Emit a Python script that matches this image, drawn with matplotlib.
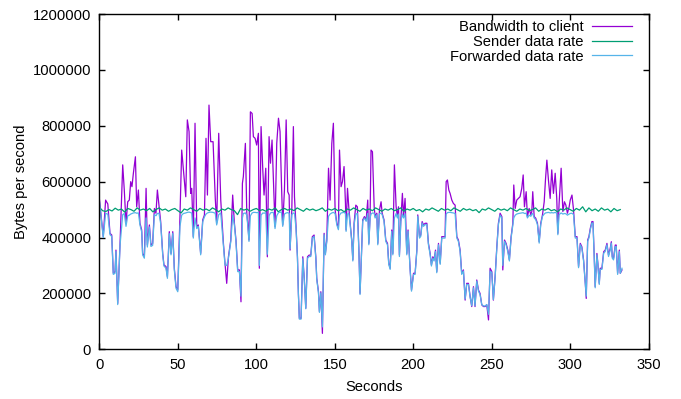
import matplotlib
matplotlib.use("Agg")
import matplotlib.pyplot as plt
import numpy as np

plt.rcParams['font.family'] = ['Liberation Sans', 'DejaVu Sans']

# ---- data (values in thousands of bytes/s) ----
t_bw = [0, 2.4, 3.9, 5.3, 6.7, 7.8, 8.8, 9.9, 10.5, 11.6,
        13.1, 14.8, 15.8, 16.9, 18.0, 19.0, 19.9, 20.7, 21.6, 22.9,
        23.7, 24.8, 25.8, 26.9, 27.5, 28.6, 29.7, 30.5, 31.8, 32.8,
        33.9, 35.0, 36.0, 36.9, 37.9, 39.0, 40.3, 41.1, 42.4, 43.3,
        44.5, 45.6, 46.7, 47.7, 48.8, 49.9, 51.3, 52.4, 53.5, 55.0,
        56.0, 57.1, 58.1, 58.8, 59.8, 60.9, 62.0, 63.0, 64.5, 65.8,
        66.9, 67.9, 68.8, 69.8, 70.9, 72.4, 73.8, 74.7, 76.0, 77.3,
        79.0, 80.0, 81.1, 82.2, 83.7, 84.9, 86.0, 87.0, 88.1, 89.2,
        90.2, 91.1, 91.7, 93.0, 93.9, 94.5, 95.3, 96.2, 97.3, 98.1,
        99.2, 100.2, 101.3, 101.9, 103.0, 104.1, 104.9, 106.0, 107.0, 108.1,
        109.0, 110.0, 110.9, 111.9, 113.0, 114.1, 115.1, 116.0, 116.8, 117.9,
        119.0, 120.0, 120.9, 121.5, 122.6, 123.6, 124.3, 125.3, 126.2, 126.8,
        127.4, 128.5, 129.6, 130.6, 131.5, 132.6, 133.6, 134.7, 135.7, 136.8,
        137.9, 138.5, 139.6, 140.2, 141.1, 142.1, 143.2, 144.0, 144.9, 146.0,
        147.0, 148.1, 149.1, 150.2, 151.3, 152.3, 153.0, 154.0, 154.9, 155.9,
        156.8, 157.2, 158.1, 158.9, 159.8, 160.8, 161.5, 162.3, 163.4, 164.4,
        165.3, 166.1, 167.2, 167.8, 168.9, 170.0, 171.0, 171.7, 172.5, 173.1,
        174.0, 175.1, 175.7, 176.8, 177.4, 178.5, 179.5, 180.2, 181.4, 182.5,
        183.6, 184.4, 185.3, 186.3, 187.0, 188.0, 189.1, 189.9, 190.6, 191.2,
        192.1, 193.1, 193.8, 194.8, 195.9, 196.7, 198.0, 198.9, 200.2, 201.2,
        202.3, 202.9, 204.0, 204.8, 205.7, 206.5, 207.6, 208.7, 209.7, 210.8,
        211.6, 212.5, 213.3, 214.2, 215.0, 216.1, 217.2, 218.2, 219.3, 220.3,
        221.0, 221.8, 222.7, 223.5, 224.6, 225.6, 226.7, 227.8, 228.8, 229.9,
        230.9, 232.0, 233.1, 234.1, 235.2, 236.3, 237.3, 238.4, 239.4, 240.5,
        241.6, 242.6, 243.7, 244.8, 245.8, 246.9, 248.0, 249.0, 250.1, 251.1,
        252.2, 253.3, 254.3, 255.4, 256.5, 257.1, 258.2, 259.2, 260.3, 261.3,
        262.4, 263.5, 264.1, 265.0, 266.0, 267.1, 268.1, 269.2, 270.1, 270.9,
        272.0, 272.8, 273.9, 275.0, 275.6, 276.2, 277.1, 278.1, 279.2, 280.3,
        281.3, 282.4, 283.5, 284.3, 285.2, 286.2, 287.3, 288.3, 289.4, 290.5,
        291.5, 292.2, 293.0, 294.3, 295.4, 296.4, 297.3, 298.3, 299.4, 300.1,
        301.2, 302.2, 303.3, 304.4, 305.4, 306.5, 307.5, 308.6, 309.7, 310.3,
        311.2, 312.0, 312.9, 313.9, 314.6, 315.4, 316.0, 317.1, 317.7, 318.6,
        319.2, 320.3, 321.4, 322.4, 323.5, 324.5, 325.6, 326.3, 326.9, 327.7,
        328.8, 329.4, 330.3, 331.4, 332.0, 333.1]

bandwidth_k = [534, 403, 534, 520, 415, 409, 272, 278, 355, 164,
               379, 660, 570, 451, 528, 534, 600, 582, 630, 689,
               510, 570, 451, 427, 343, 331, 576, 373, 445, 373,
               379, 504, 487, 570, 516, 457, 343, 302, 296, 260,
               421, 343, 421, 290, 224, 212, 475, 713, 642, 546,
               821, 779, 558, 576, 403, 809, 439, 445, 343, 463,
               481, 755, 552, 874, 743, 743, 540, 451, 773, 534,
               379, 308, 236, 331, 391, 552, 451, 391, 284, 284,
               170, 594, 618, 737, 487, 451, 391, 850, 844, 761,
               755, 731, 773, 290, 797, 642, 552, 648, 331, 761,
               666, 749, 606, 439, 737, 827, 779, 594, 445, 570,
               821, 564, 552, 355, 499, 797, 546, 439, 331, 200,
               111, 111, 331, 248, 147, 331, 337, 337, 403, 409,
               331, 254, 206, 135, 206, 57, 415, 343, 391, 648,
               534, 737, 809, 499, 451, 433, 713, 582, 600, 654,
               522, 427, 576, 510, 451, 391, 320, 451, 516, 510,
               367, 200, 367, 463, 475, 463, 534, 379, 475, 713,
               707, 510, 475, 487, 379, 499, 528, 487, 463, 391,
               379, 308, 290, 427, 343, 660, 510, 475, 510, 337,
               463, 558, 475, 540, 343, 427, 290, 212, 272, 272,
               355, 481, 403, 409, 457, 445, 451, 451, 379, 343,
               302, 331, 320, 355, 278, 379, 308, 403, 403, 403,
               600, 606, 570, 558, 534, 522, 516, 403, 391, 355,
               272, 284, 176, 236, 236, 188, 153, 224, 153, 248,
               212, 200, 159, 153, 153, 159, 105, 290, 278, 176,
               260, 367, 451, 487, 475, 284, 391, 379, 355, 320,
               403, 451, 588, 504, 534, 540, 546, 576, 624, 510,
               564, 475, 504, 481, 493, 564, 475, 469, 451, 385,
               451, 481, 528, 606, 677, 606, 540, 642, 558, 630,
               540, 415, 522, 648, 493, 528, 516, 487, 510, 534,
               552, 499, 403, 403, 296, 379, 367, 320, 236, 182,
               391, 403, 433, 457, 457, 331, 224, 343, 308, 236,
               290, 290, 349, 355, 379, 337, 361, 385, 331, 325,
               373, 373, 272, 355, 272, 284]

forwarded_k = [528, 400, 486, 484, 410, 404, 268, 272, 350, 160,
               372, 482, 486, 440, 478, 480, 484, 486, 488, 489,
               487, 488, 445, 420, 338, 326, 470, 366, 438, 368,
               372, 482, 478, 486, 487, 450, 338, 298, 290, 254,
               414, 338, 415, 284, 218, 206, 440, 480, 486, 488,
               490, 491, 489, 488, 398, 470, 432, 440, 338, 456,
               474, 484, 488, 490, 491, 490, 487, 445, 482, 488,
               372, 302, 300, 326, 385, 480, 445, 385, 278, 278,
               190, 470, 486, 488, 480, 445, 386, 478, 488, 490,
               490, 489, 490, 300, 480, 488, 487, 489, 340, 478,
               488, 490, 489, 432, 478, 489, 491, 490, 440, 484,
               488, 489, 487, 360, 482, 488, 486, 432, 326, 196,
               108, 108, 324, 244, 145, 326, 332, 332, 398, 404,
               326, 250, 202, 132, 202, 80, 410, 338, 386, 476,
               484, 488, 490, 486, 445, 428, 480, 488, 489, 490,
               486, 422, 484, 487, 445, 386, 316, 446, 484, 486,
               362, 196, 362, 458, 470, 458, 486, 374, 470, 484,
               488, 487, 470, 482, 374, 486, 487, 482, 458, 386,
               374, 304, 286, 422, 338, 470, 486, 470, 484, 332,
               458, 484, 470, 485, 338, 422, 286, 208, 268, 268,
               350, 476, 398, 404, 452, 440, 446, 446, 374, 338,
               298, 326, 316, 350, 274, 374, 304, 398, 398, 398,
               484, 489, 490, 490, 489, 488, 486, 398, 386, 350,
               268, 280, 180, 232, 232, 186, 156, 220, 156, 244,
               208, 196, 160, 155, 155, 160, 125, 280, 274, 178,
               256, 362, 446, 480, 470, 300, 386, 374, 350, 316,
               398, 446, 470, 480, 484, 486, 487, 488, 489, 486,
               487, 470, 480, 476, 484, 486, 470, 464, 446, 380,
               446, 476, 484, 488, 489, 490, 488, 489, 488, 490,
               487, 410, 482, 488, 484, 486, 485, 480, 484, 486,
               487, 482, 398, 398, 292, 374, 362, 316, 232, 190,
               386, 398, 428, 452, 452, 326, 220, 338, 304, 232,
               286, 286, 344, 350, 374, 332, 356, 380, 326, 320,
               368, 368, 268, 350, 272, 290]

t_sender = list(range(0, 334, 2))
sender_k = [508, 496, 493, 500, 495, 505, 498, 502, 491, 504,
            500, 494, 506, 498, 502, 496, 504, 492, 500, 506,
            498, 502, 494, 500, 504, 496, 488, 502, 498, 506,
            500, 494, 504, 498, 502, 496, 506, 500, 492, 502,
            498, 506, 500, 496, 482, 504, 498, 502, 494, 500,
            504, 496, 500, 494, 502, 498, 506, 492, 500, 504,
            498, 502, 496, 506, 500, 494, 504, 498, 502, 496,
            500, 506, 494, 502, 498, 504, 496, 500, 492, 502,
            498, 506, 500, 494, 504, 498, 502, 496, 506, 500,
            494, 502, 498, 504, 496, 500, 506, 494, 502, 498,
            504, 496, 500, 492, 502, 498, 506, 500, 494, 504,
            498, 502, 496, 506, 500, 494, 504, 498, 502, 496,
            500, 489, 502, 498, 506, 500, 494, 504, 498, 502,
            496, 506, 500, 494, 502, 498, 504, 496, 500, 506,
            494, 502, 498, 504, 496, 500, 492, 502, 498, 506,
            500, 494, 504, 498, 510, 492, 506, 496, 502, 494,
            506, 498, 502, 492, 504, 496, 500]

series_labels = ["Bandwidth to client", "Sender data rate", "Forwarded data rate"]
x_ticks = [0, 50, 100, 150, 200, 250, 300, 350]
y_ticks = [0, 200000, 400000, 600000, 800000, 1000000, 1200000]
y_tick_labels = ["0", "200000", "400000", "600000", "800000", "1000000", "1200000"]

# ---- figure ----
fs = 10.6
fig = plt.figure(figsize=(6.81, 3.99), dpi=100)
ax = fig.add_axes([0.1461, 0.1246, 0.8062, 0.8403])

ax.plot(t_bw, np.array(bandwidth_k) * 1000, color='#9400D3', lw=0.9, label=series_labels[0])
ax.plot(t_sender, np.array(sender_k) * 1000, color='#009E73', lw=0.9, label=series_labels[1])
ax.plot(t_bw, np.array(forwarded_k) * 1000, color='#56B4E9', lw=0.9, label=series_labels[2])

ax.set_xlim(0, 350)
ax.set_ylim(0, 1200000)
ax.set_xticks(x_ticks)
ax.set_xticklabels([str(v) for v in x_ticks], fontsize=fs)
ax.set_yticks(y_ticks)
ax.set_yticklabels(y_tick_labels, fontsize=fs)
ax.tick_params(direction='in', top=True, right=True, length=4.5, width=1.0, pad=6)
for s in ax.spines.values():
    s.set_linewidth(1.0)

ax.set_xlabel("Seconds", fontsize=fs, labelpad=6)
ax.set_ylabel("Bytes per second", fontsize=fs, labelpad=3)

ax.legend(loc='upper right', bbox_to_anchor=(0.970, 0.981), markerfirst=False,
          frameon=False, handlelength=2.7, handletextpad=0.6, labelspacing=0.04,
          borderaxespad=0, borderpad=0, fontsize=fs)

fig.savefig("out.png", dpi=100)
